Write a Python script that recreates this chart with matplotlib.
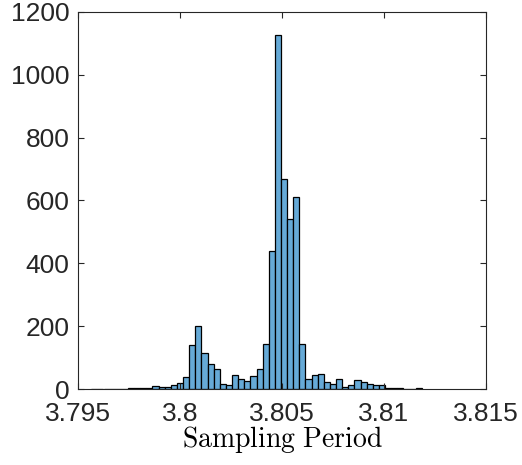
import numpy as np
import matplotlib
matplotlib.use("Agg")
import matplotlib.pyplot as plt

plt.rcParams['mathtext.fontset'] = 'cm'

# Histogram data
bin_start = 3.79565
bin_width = 0.0003
counts = [0, 1, 1, 0, 1, 1, 2,
          2, 3, 3, 9, 5, 7, 12, 18, 39, 139, 200, 114, 79, 65,
          16, 14, 44, 33, 26, 40, 63, 142, 440, 1127, 669, 541, 612, 143,
          33, 45, 48, 21, 17, 33, 5, 12, 30, 22, 17, 14, 14, 2, 2, 4, 1, 1, 4]
xticks = [3.795, 3.8, 3.805, 3.81, 3.815]
xticklabels = ['3.795', '3.8', '3.805', '3.81', '3.815']
yticks = [0, 200, 400, 600, 800, 1000, 1200]
xlabel = r'$\mathrm{Sampling\ Period}$'

edges = bin_start + bin_width * np.arange(len(counts) + 1)

fig = plt.figure(figsize=(5.22, 4.65), dpi=100)
ax = fig.add_axes([78/522, 1 - 389/465, (486-78)/522, (389-12)/465])

face = (0.4, 0.668, 0.845)
ax.bar(edges[:-1], counts, width=np.diff(edges), align='edge',
       color=face, edgecolor='black', linewidth=0.9)

ax.set_xlim(3.795, 3.815)
ax.set_ylim(0, 1200)
ax.set_xticks(xticks)
ax.set_xticklabels(xticklabels)
ax.set_yticks(yticks)

axcol = (0.15, 0.15, 0.15)
for s in ax.spines.values():
    s.set_color(axcol)
    s.set_linewidth(0.8)
ax.tick_params(direction='in', length=4, width=0.8, color=axcol,
               top=True, right=True, labelsize=19, labelcolor=axcol)
ax.tick_params(axis='x', pad=9)
ax.tick_params(axis='y', pad=6)
for lab in ax.get_xticklabels() + ax.get_yticklabels():
    lab.set_fontfamily('Liberation Sans')

ax.set_xlabel(xlabel, fontsize=20, color='black', labelpad=-1)

fig.savefig('out.png', dpi=100)
